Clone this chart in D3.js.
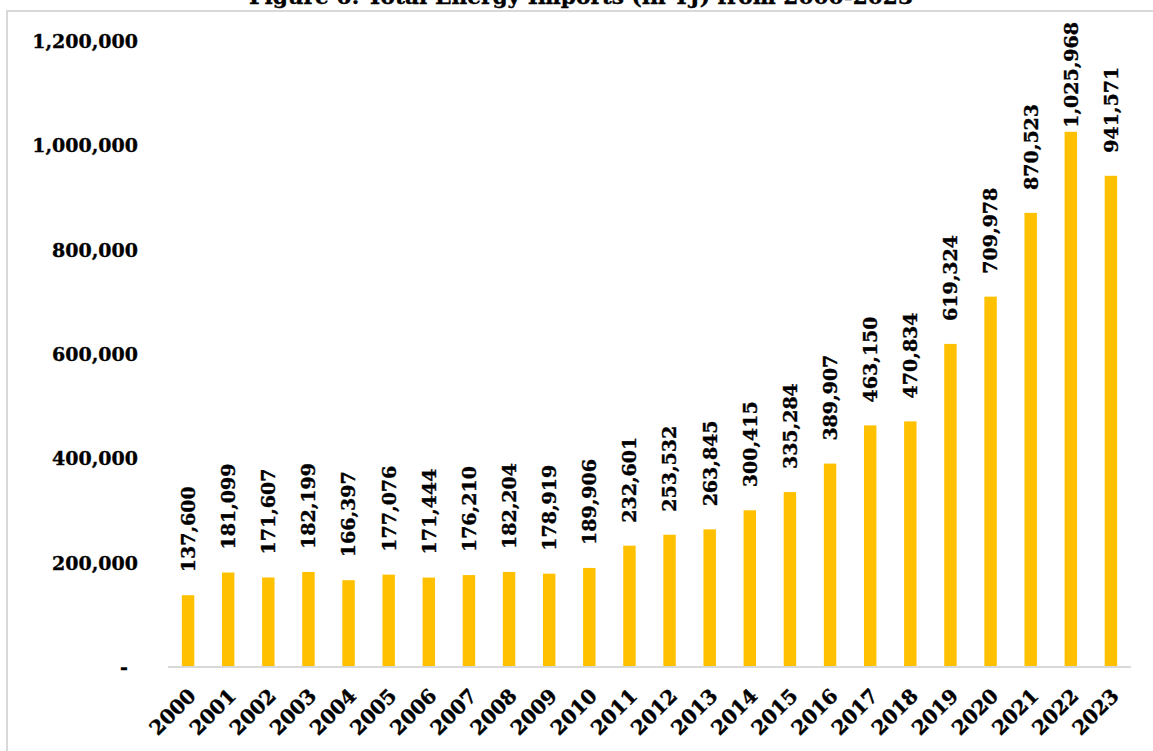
<!DOCTYPE html>
<html>
<head>
<meta charset="utf-8">
<script src="https://cdn.jsdelivr.net/npm/d3@7"></script>
<style>
  html, body { margin: 0; padding: 0; background: #ffffff; }
  svg { display: block; }
  text { font-family: "DejaVu Serif", "Liberation Serif", serif; font-weight: bold; fill: #000; stroke: #000; stroke-width: 0.35px; }
</style>
</head>
<body>
<svg id="chart" width="1153" height="751"></svg>
<script>
// Total energy imports (TJ), 2000-2023
const years = ["2000","2001","2002","2003","2004","2005","2006","2007","2008","2009","2010","2011",
               "2012","2013","2014","2015","2016","2017","2018","2019","2020","2021","2022","2023"];
const imports = [137600, 181099, 171607, 182199, 166397, 177076, 171444, 176210, 182204, 178919, 189906, 232601,
                 253532, 263845, 300415, 335284, 389907, 463150, 470834, 619324, 709978, 870523, 1025968, 941571];
const yTicks = [0, 200000, 400000, 600000, 800000, 1000000, 1200000];
const titleText = "Figure 6: Total Energy Imports (in TJ) from 2000-2023";

const svg = d3.select("#chart");
const W = 1153, H = 751;
const plot = { left: 168, right: 1131, top: 41, bottom: 667 };

const x = d3.scaleBand().domain(years).range([plot.left, plot.right]).paddingInner(0.69).paddingOuter(0.345);
const y = d3.scaleLinear().domain([0, 1200000]).range([plot.bottom, plot.top]);
const fmt = d3.format(",");

// frame around the chart area
svg.append("path")
  .attr("d", `M7,${H} L7,11 L${W},11`)
  .attr("fill", "none").attr("stroke", "#d9d9d9").attr("stroke-width", 2);

// title, sitting above the frame
svg.append("text")
  .attr("x", 581).attr("y", 4)
  .attr("text-anchor", "middle")
  .attr("font-size", 21)
  .attr("textLength", 664).attr("lengthAdjust", "spacingAndGlyphs")
  .text(titleText);

// y-axis labels
svg.append("g").selectAll("text").data(yTicks).join("text")
  .attr("x", d => d === 0 ? 128 : 138)
  .attr("y", d => y(d))
  .attr("dy", "0.36em")
  .attr("text-anchor", "end")
  .attr("font-size", 19)
  .text(d => d === 0 ? "-" : fmt(d));

// bars
svg.append("g").selectAll("rect").data(imports).join("rect")
  .attr("x", (d, i) => x(years[i]))
  .attr("y", d => y(d))
  .attr("width", x.bandwidth())
  .attr("height", d => y(0) - y(d))
  .attr("fill", "#FFC000");

// baseline
svg.append("line")
  .attr("x1", plot.left).attr("x2", plot.right)
  .attr("y1", plot.bottom).attr("y2", plot.bottom)
  .attr("stroke", "#d9d9d9").attr("stroke-width", 2);

// value labels, rotated; kept inside the frame when a bar reaches the top
const labelGap = 23, labelTopLimit = 22;
svg.append("g").selectAll("text").data(imports).join("text")
  .attr("font-size", 19)
  .attr("text-anchor", "start")
  .text(d => fmt(d))
  .each(function(d, i) {
    const len = this.getComputedTextLength();
    let bottom = y(d) - labelGap;
    if (bottom - len < labelTopLimit) bottom = labelTopLimit + len;
    const cx = x(years[i]) + x.bandwidth() / 2;
    d3.select(this).attr("transform", `translate(${cx},${bottom}) rotate(-90)`).attr("dy", "0.36em");
  });

// x-axis labels, slanted
svg.append("g").selectAll("text").data(years).join("text")
  .attr("font-size", 20)
  .attr("text-anchor", "end")
  .attr("transform", d => `translate(${x(d) + x.bandwidth() / 2 + 4},${plot.bottom + 25}) rotate(-45)`)
  .attr("dy", "0.36em")
  .text(d => d);
</script>
</body>
</html>
